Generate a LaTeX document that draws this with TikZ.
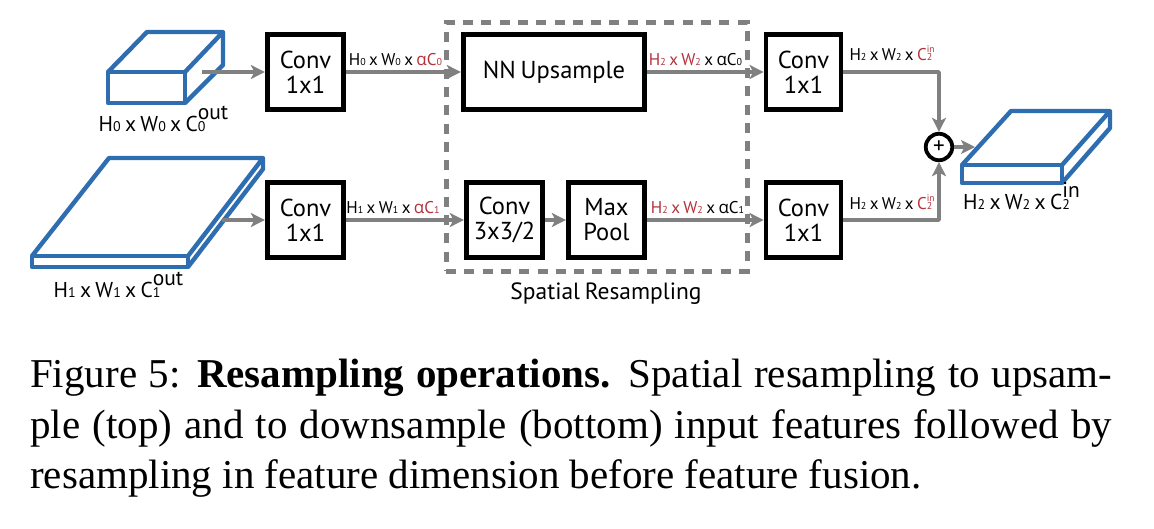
\documentclass[tikz,border=0pt]{standalone}
\usepackage{fontspec}
\setmainfont{Liberation Serif}
\newfontfamily\lblfont[WordSpace=0.75]{PT Sans}
\newfontfamily\grkfont{Open Sans}
\usetikzlibrary{arrows.meta,calc}
\definecolor{blk}{HTML}{2E6DB0}
\definecolor{gry}{HTML}{808080}
\definecolor{redt}{HTML}{B5323C}
\newcommand{\fs}[1]{\fontsize{#1}{#1}\selectfont}
\newcommand{\al}{{\grkfont α}}
% small labels
\newcommand{\sm}[1]{{\fs{10}#1}}
\newcommand{\smsup}[2]{\rlap{\fs{10}#1}\raisebox{8pt}{\fs{9.5}#2}}
\newcommand{\bg}[1]{{\fs{14}#1}}
\newcommand{\bgsup}[2]{\rlap{\fs{14}#1}\raisebox{12pt}{\fs{21.5}#2}}
\tikzset{
  opbox/.style={draw=black,line width=4.8pt,fill=white,inner sep=0pt,align=center,font=\lblfont\fontsize{24.5}{25}\selectfont},
  conn/.style={draw=gry,line width=3.5pt,-{Stealth[length=14pt,width=14pt,inset=3.5pt]}},
  cuboid/.style={draw=blk,line width=4.4pt,line join=round},
  smalllbl/.style={font=\lblfont\fs{17},inner sep=0pt,anchor=base},
  dimlbl/.style={font=\lblfont\fs{21.5},inner sep=0pt,anchor=base},
  captxt/.style={font=\fs{41},inner sep=0pt,anchor=base west}
}
\begin{document}
\begin{tikzpicture}[x=1pt,y=-1pt]
\useasboundingbox (0,0) rectangle (1154,528);
\fill[white] (0,0) rectangle (1154,528);

% dashed frame
\node[draw=gry,line width=5pt,dash pattern=on 10pt off 8.3pt,minimum width=301pt,minimum height=248.5pt,inner sep=0pt] (frame) at (596.5,146.75) {};

% cuboids
\draw[cuboid] (108,72) rectangle (185,103);
\draw[cuboid] (108,72) -- (147,32) -- (223,32) -- (185,72);
\draw[cuboid] (223,32) -- (223,65) -- (185,103);

\draw[cuboid] (32,256) rectangle (188,267);
\draw[cuboid] (32,256) -- (109,158) -- (263,158) -- (188,256);
\draw[cuboid] (263,158) -- (263,169) -- (188,267);

\draw[cuboid] (962,165) rectangle (1062,183);
\draw[cuboid] (962,165) -- (1011,111) -- (1110,111) -- (1062,165);
\draw[cuboid] (1110,111) -- (1110,128) -- (1062,183);

% boxes
\node[opbox,minimum width=76.5pt,minimum height=75.5pt] (c0) at (305.5,72) {Conv\\1x1};
\node[opbox,minimum width=76.5pt,minimum height=75.5pt] (c1) at (305.5,220) {Conv\\1x1};
\node[opbox,minimum width=181.5pt,minimum height=75.5pt] (nn) at (554,72) {\raisebox{1.5pt}{NN Upsample}};
\node[opbox,minimum width=76.5pt,minimum height=75.5pt] (c3) at (504.5,220) {Conv\\3x3/2};
\node[opbox,minimum width=76.5pt,minimum height=75.5pt] (mp) at (606.5,220) {Max\\Pool};
\node[opbox,minimum width=75pt,minimum height=75.5pt] (r0) at (803.5,72) {Conv\\1x1};
\node[opbox,minimum width=75pt,minimum height=75.5pt] (r1) at (803.5,220) {Conv\\1x1};
\node[circle,draw=black,line width=3.8pt,fill=white,minimum size=26.5pt,inner sep=0pt,font=\lblfont\fs{23}] (plus) at (939,147) {+};

% free ends
\coordinate (s0) at (202,72);
\coordinate (s1) at (222,220);
\coordinate (t2) at (975,147);

% connectors
\draw[conn] (s0) -- (c0.west);
\draw[conn] (s1) -- (c1.west);
\draw[conn] (c0.east) -- (nn.west);
\draw[conn] (c1.east) -- (c3.west);
\draw[conn] (c3.east) -- (mp.west);
\draw[conn] (nn.east) -- (r0.west);
\draw[conn] (mp.east) -- (r1.west);
\draw[conn,line join=round] (r0.east) -| (plus.north);
\draw[conn,line join=round] (r1.east) -| (plus.south);
\draw[conn] (plus.east) -- (t2);

% small labels
\node[smalllbl] (l1) at (395.5,65) {H\sm{0} x W\sm{0} x \textcolor{redt}{\al C\sm{0}}};
\node[smalllbl] (l2) at (393,213) {H\sm{1} x W\sm{1} x \textcolor{redt}{\al C\sm{1}}};
\node[smalllbl] (l3) at (695.5,65) {\textcolor{redt}{H\sm{2} x W\sm{2}} x \al C\sm{0}};
\node[smalllbl] (l4) at (697.5,213) {\textcolor{redt}{H\sm{2} x W\sm{2}} x \al C\sm{1}};
\node[smalllbl] (l5) at (892,60.5) {H\sm{2} x W\sm{2} x \textcolor{redt}{C\smsup{2}{in}}};
\node[smalllbl] (l6) at (892,209) {H\sm{2} x W\sm{2} x \textcolor{redt}{C\smsup{2}{in}}};

% dimension labels
\node[dimlbl] (d0) at (163.5,131) {H\bg{0} x W\bg{0} x C\bgsup{0}{out}};
\node[dimlbl] (d1) at (118.5,297) {H\bg{1} x W\bg{1} x C\bgsup{1}{out}};
\node[dimlbl] (d2) at (1021.5,209) {H\bg{2} x W\bg{2} x C\bgsup{2}{in}};
\node[dimlbl,font=\lblfont\fs{23.5}] (sr) at (606,299) {Spatial Resampling};

% caption
\node[captxt] (cap1) at (30,387) {\makebox[1082pt][s]{Figure 5: \textbf{Resampling operations.} Spatial resampling to upsam-}};
\node[captxt] (cap2) at (30,438) {\makebox[1082pt][s]{ple (top) and to downsample (bottom) input features followed by}};
\node[captxt] (cap3) at (30,488) {resampling in feature dimension before feature fusion.};
\end{tikzpicture}
\end{document}
